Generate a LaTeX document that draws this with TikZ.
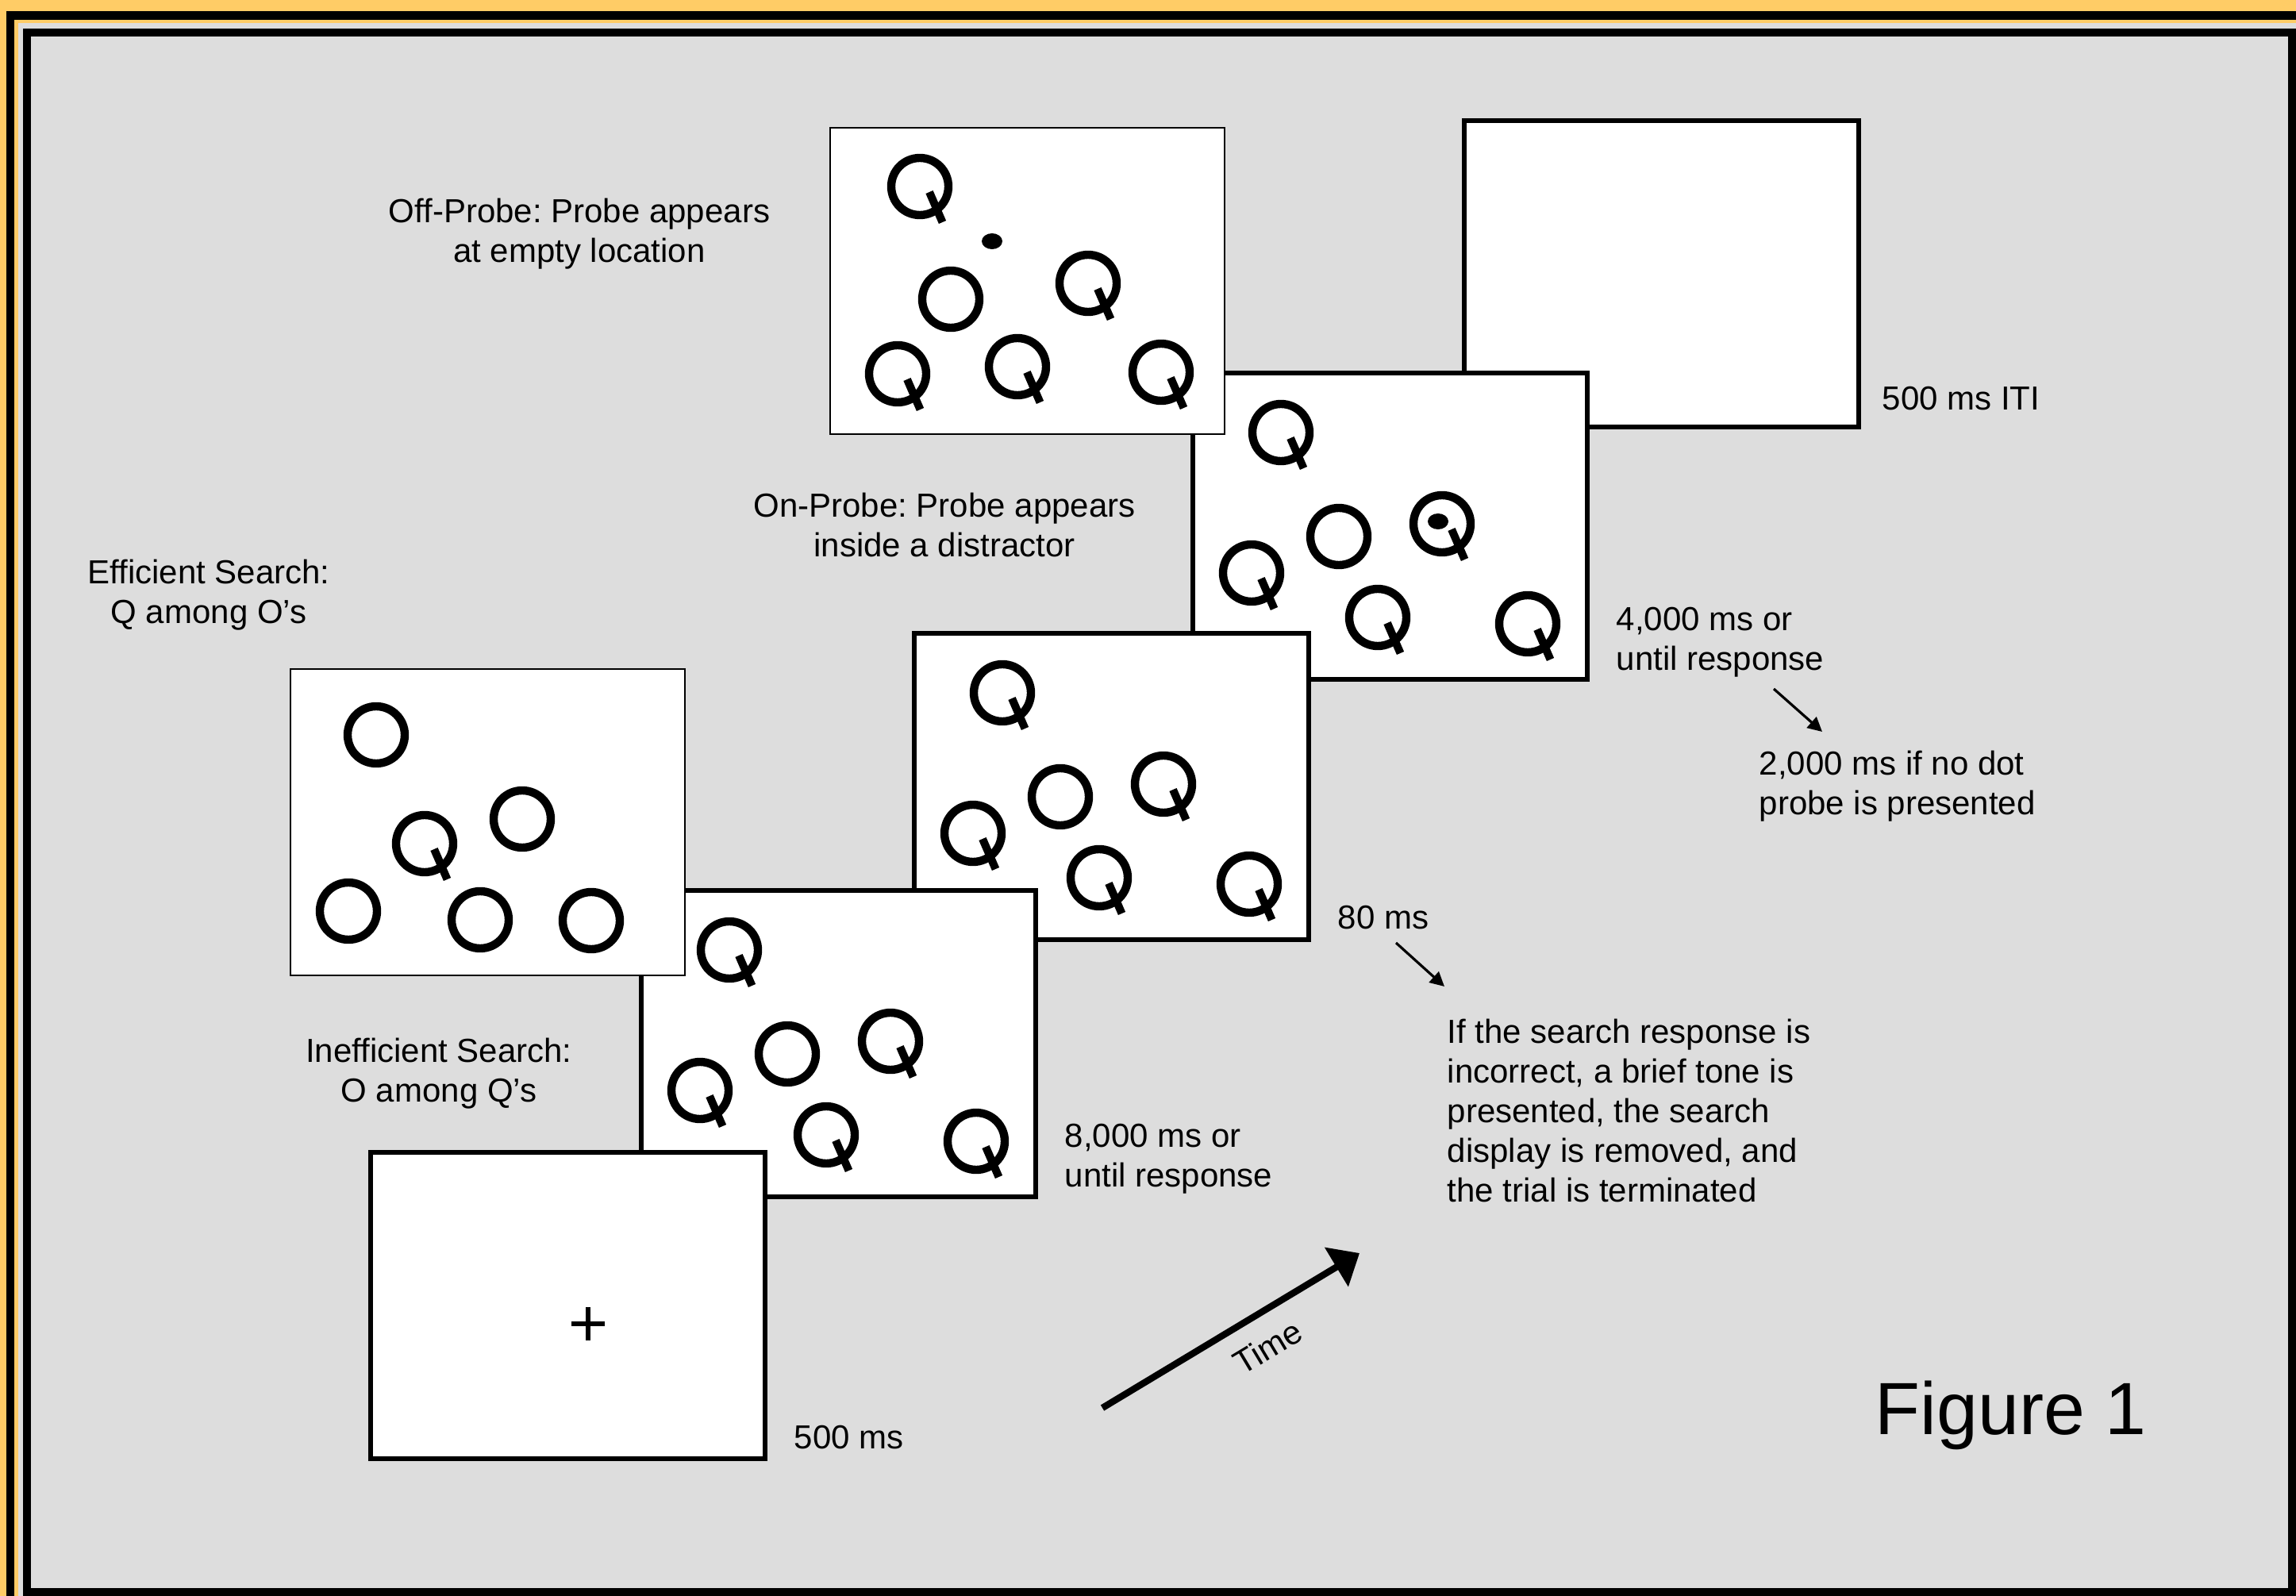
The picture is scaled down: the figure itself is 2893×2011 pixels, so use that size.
\documentclass[tikz,border=0pt]{standalone}
\usepackage{fontspec}
\setmainfont{Liberation Sans}
\usetikzlibrary{arrows.meta}
\definecolor{bgorange}{RGB}{255,204,102}
\definecolor{panelgray}{RGB}{221,221,221}
\frenchspacing
\begin{document}
\begin{tikzpicture}[x=0.25pt,y=-0.25pt,
  screen/.style={draw=black, fill=white, line width=1.65pt, minimum width=124.25pt, minimum height=96.5pt, inner sep=0pt, outer sep=0pt, anchor=north west},
  thinscreen/.style={screen, line width=0.55pt},
  ringline/.style={line width=2.6pt},
  tailline/.style={line width=2.5pt, line cap=butt},
  lbl/.style={font=\fontsize{10.5}{12.5}\selectfont, inner sep=0pt},
  figlbl/.style={font=\fontsize{23.3}{28}\selectfont, inner sep=0pt},
  smallarrow/.style={line width=0.8pt, -{Triangle[length=4.5pt,width=4.5pt]}},
  timearrow/.style={line width=2.1pt, -{Triangle[length=8.5pt,width=14pt]}},
  qletter/.pic={\draw[ringline] (0,0) circle[radius=36]; \draw[tailline] (12,7) -- (28.5,45);},
  oletter/.pic={\draw[ringline] (0,0) circle[radius=36];}
]
\useasboundingbox (0,0) rectangle (2893,2011);
\clip (0,0) rectangle (2893,2011);
% frame
\fill[bgorange] (0,0) rectangle (2893,2011);
\draw[line width=2.6pt] (13,19.5) rectangle (3000,2100);
\fill[panelgray] (23,29) rectangle (2893,2011);
\draw[line width=2.5pt] (34,41) rectangle (2888,2006);

% ITI box
\node[screen] (iti) at (1845,152) {};

% On-probe box
\node[screen] (onbox) at (1503,470) {};
\begin{scope}[shift={(1503,470)}]
  \pic at (111,75) {qletter};
  \pic at (184,206) {oletter};
  \pic at (314,190) {qletter};
  \fill (309,187) ellipse[x radius=13, y radius=10];
  \pic at (74,252) {qletter};
  \pic at (233,308) {qletter};
  \pic at (422,316) {qletter};
\end{scope}

% Off-probe box
\node[thinscreen] (offbox) at (1046,161) {};
\pic at (1159,235) {qletter};
\fill (1250,304) ellipse[x radius=13, y radius=10];
\pic at (1198,377) {oletter};
\pic at (1371,357) {qletter};
\pic at (1131,471) {qletter};
\pic at (1282,462) {qletter};
\pic at (1463,469) {qletter};

% 80 ms box
\node[screen] (maskbox) at (1152,798) {};
\begin{scope}[shift={(1152,798)}]
  \pic at (111,75) {qletter};
  \pic at (184,206) {oletter};
  \pic at (314,190) {qletter};
  \pic at (74,252) {qletter};
  \pic at (233,308) {qletter};
  \pic at (422,316) {qletter};
\end{scope}

% Inefficient search box
\node[screen] (inefbox) at (808,1122) {};
\begin{scope}[shift={(808,1122)}]
  \pic at (111,75) {qletter};
  \pic at (184,206) {oletter};
  \pic at (314,190) {qletter};
  \pic at (74,252) {qletter};
  \pic at (233,308) {qletter};
  \pic at (422,316) {qletter};
\end{scope}

% Efficient search box
\node[thinscreen] (effbox) at (366,843) {};
\pic at (474,926) {oletter};
\pic at (535,1063) {qletter};
\pic at (658,1032) {oletter};
\pic at (439,1148) {oletter};
\pic at (605,1159) {oletter};
\pic at (745,1160) {oletter};

% Fixation box
\node[screen] (fixbox) at (467,1452) {};
\draw[line width=1.6pt] (720,1668) -- (762,1668);
\draw[line width=1.6pt] (741,1647) -- (741,1689);

% labels (anchor=base is the baseline of the last line)
\node[lbl, align=center, anchor=base] (offlbl) at (730,331) {Off-Probe: Probe appears\\at empty location};
\node[lbl, align=center, anchor=base] (onlbl) at (1190,701) {On-Probe: Probe appears\\inside a distractor};
\node[lbl, align=center, anchor=base] (efflbl) at (263,786) {Efficient Search:\\Q among O’s};
\node[lbl, align=center, anchor=base] (ineflbl) at (553,1388) {Inefficient Search:\\O among Q’s};
\node[lbl, anchor=base west] (itilbl) at (2371,517) {500 ms ITI};
\node[lbl, align=left, anchor=base west] (t4000) at (2036,845) {4,000 ms or\\until response};
\node[lbl, align=left, anchor=base west] (t2000) at (2216,1026) {2,000 ms if no dot\\probe is presented};
\node[lbl, anchor=base west] (t80) at (1685,1170) {80 ms};
\node[lbl, align=left, anchor=base west] (tinc) at (1823,1514) {If the search response is\\incorrect, a brief tone is\\presented, the search\\display is removed, and\\the trial is terminated};
\node[lbl, align=left, anchor=base west] (t8000) at (1341,1495) {8,000 ms or\\until response};
\node[lbl, anchor=base west] (t500) at (1000,1825) {500 ms};
\node[figlbl, anchor=base west] (figlabel) at (2362,1807) {Figure 1};

% arrows
\coordinate (a1s) at (2235,868);
\coordinate (a1e) at (2296,922);
\draw[smallarrow] (a1s) -- (a1e);
\coordinate (a2s) at (1759,1188);
\coordinate (a2e) at (1820,1243);
\draw[smallarrow] (a2s) -- (a2e);
\coordinate (ts) at (1389,1774);
\coordinate (te) at (1713,1579);
\draw[timearrow] (ts) -- (te);
\node[lbl, rotate=31] (timelbl) at (1597,1697) {Time};
\end{tikzpicture}
\end{document}
